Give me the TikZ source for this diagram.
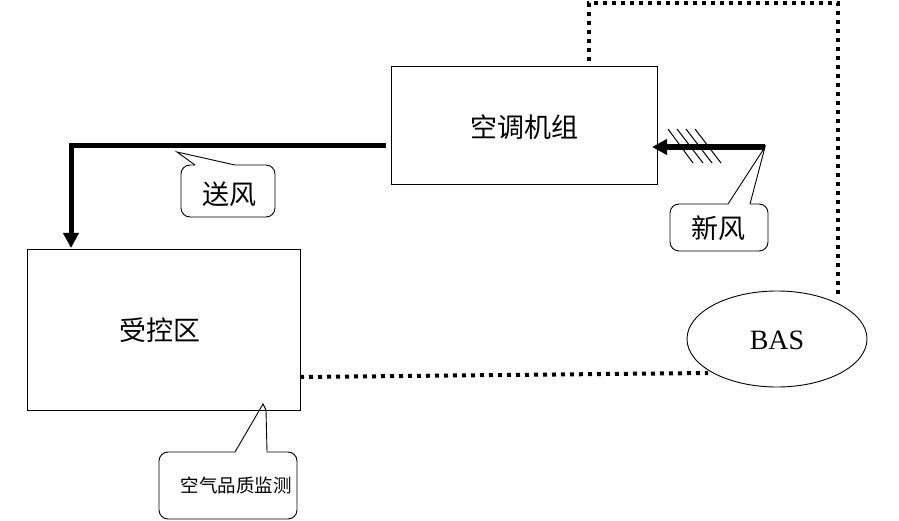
\documentclass[tikz,border=0pt]{standalone}
\usepackage{fontspec}
\setmainfont{Liberation Serif}
\newfontfamily\cjk{Noto Sans CJK SC}
\usetikzlibrary{arrows.meta,shapes.geometric}
\begin{document}
\begin{tikzpicture}[x=1pt,y=-1pt,
  box/.style={draw,line width=0.9pt,inner sep=0pt},
  callout/.style={draw,line width=0.9pt,rounded corners=9pt,fill=white},
  dots/.style={line width=4pt,dash pattern=on 4pt off 5pt},
  air/.style={line width=5pt,-{Triangle[length=15pt,width=15pt]}},
  lbl/.style={font=\cjk\fontsize{27}{27}\selectfont}]
\useasboundingbox (0,0) rectangle (899,521);
% boxes
\node[box,minimum width=266pt,minimum height=118pt] (ahu) at (524,125) {};
\node[lbl] (t1) at (524,127) {空调机组};
\node[box,minimum width=273pt,minimum height=161pt] (zone) at (163.5,329.5) {};
\node[lbl] (t2) at (160,330) {受控区};
\node[draw,line width=0.9pt,ellipse,minimum width=180pt,minimum height=96pt,inner sep=0pt] (bas) at (777,339) {};
\node[font=\fontsize{28}{28}\selectfont] (t3) at (777,340) {BAS};
% coordinates
\coordinate (s1) at (386,146);
\coordinate (s2) at (71,146);
\coordinate (s3) at (71,248);
\coordinate (f1) at (765,147);
\coordinate (f2) at (652,147);
\coordinate (d1) at (300,377);
\coordinate (d2) at (708,373);
\coordinate (e1) at (838,294);
\coordinate (e2) at (838,3);
\coordinate (e3) at (589,3);
\coordinate (e4) at (589,66);
% supply air
\draw[air] (s1) -- (s2) -- (s3);
% fresh air
\draw[air,line width=6pt] (f1) -- (f2);
\foreach \a/\b in {668/693,677/703,686/712,695/721}
  \draw[line width=1pt] (\a,129) -- (\b,163);
% dotted links
\draw[dots] (d1) -- (d2);
\draw[dots] (e1) -- (e2) -- (e3) -- (e4);
% callouts
\draw[callout] (235,165) -- (275,165) -- (275,217) -- (181,217) -- (181,165) -- (195,165);
\draw[line width=0.9pt] (195,165) -- (177,152) -- (235,165);
\node[lbl] (c1) at (229,194) {送风};
\draw[callout] (750,204) -- (768,204) -- (768,251) -- (670,251) -- (670,204) -- (728,204);
\draw[line width=0.9pt] (728,204) -- (f1) -- (750,204);
\node[lbl] (c2) at (718,228) {新风};
\draw[callout] (267,452) -- (297,452) -- (297,519) -- (159,519) -- (159,452) -- (235,452);
\draw[line width=0.9pt] (235,452) -- (263,404) -- (266,410) -- (267,452);
\node[font=\cjk\fontsize{18.5}{18.5}\selectfont] (c3) at (236,485) {空气品质监测};
\end{tikzpicture}
\end{document}
